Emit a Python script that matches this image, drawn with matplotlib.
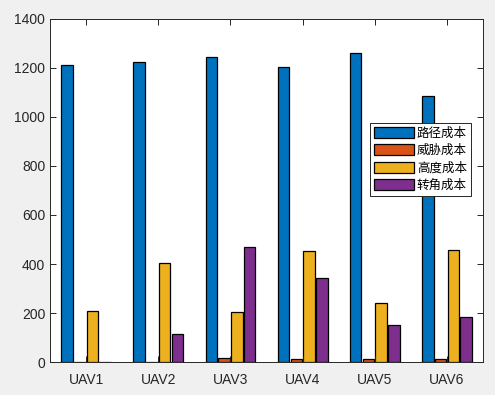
import matplotlib
matplotlib.use("Agg")
import matplotlib.pyplot as plt
import numpy as np

categories = ["UAV1", "UAV2", "UAV3", "UAV4", "UAV5", "UAV6"]
series_names = ["路径成本", "威胁成本", "高度成本", "转角成本"]
path_cost = [1212, 1224, 1245, 1204, 1261, 1086]
threat_cost = [2, 2, 15, 11, 11, 11]
height_cost = [207, 404, 203, 453, 240, 457]
turn_cost = [0, 114, 469, 343, 151, 182]
colors = ["#0072BD", "#D95319", "#EDB120", "#7E2F8E"]

plt.rcParams['font.family'] = ['Liberation Sans', 'DejaVu Sans']

fig = plt.figure(figsize=(4.95, 3.95), dpi=100, facecolor="#f0f0f0")
ax = fig.add_axes([0.101, 0.0835, 0.875, 0.8685])
x = np.arange(1, len(categories) + 1)
offsets = [-0.265, -0.088, 0.088, 0.265]
width = 0.16
for vals, off, col, name in zip([path_cost, threat_cost, height_cost, turn_cost], offsets, colors, series_names):
    ax.bar(x + off, vals, width, color=col, edgecolor="black", linewidth=0.9, label=name)

ax.set_xlim(0.5, 6.5)
ax.set_ylim(0, 1400)
ax.set_xticks(x)
ax.set_xticklabels(categories)
ax.set_yticks(range(0, 1401, 200))
ax.tick_params(direction="in", top=True, right=True, labelsize=10, colors="#262626", length=4, width=0.7)
for sp in ax.spines.values():
    sp.set_color("#262626")
    sp.set_linewidth(0.7)
for lbl in ax.get_xticklabels() + ax.get_yticklabels():
    lbl.set_color("#262626")
ax.tick_params(axis='x', pad=8)

leg = ax.legend(loc="upper left", bbox_to_anchor=(0.739, 0.697), borderaxespad=0,
                prop={'family': ['Noto Sans CJK SC', 'DejaVu Sans'], 'size': 9},
                handlelength=3.2, handleheight=0.95, handletextpad=0.25, labelspacing=0.35,
                borderpad=0.3, fancybox=False, frameon=True, framealpha=1)
leg.get_frame().set_edgecolor("#262626")
leg.get_frame().set_linewidth(0.7)

fig.savefig("out.png", dpi=100, facecolor=fig.get_facecolor())
